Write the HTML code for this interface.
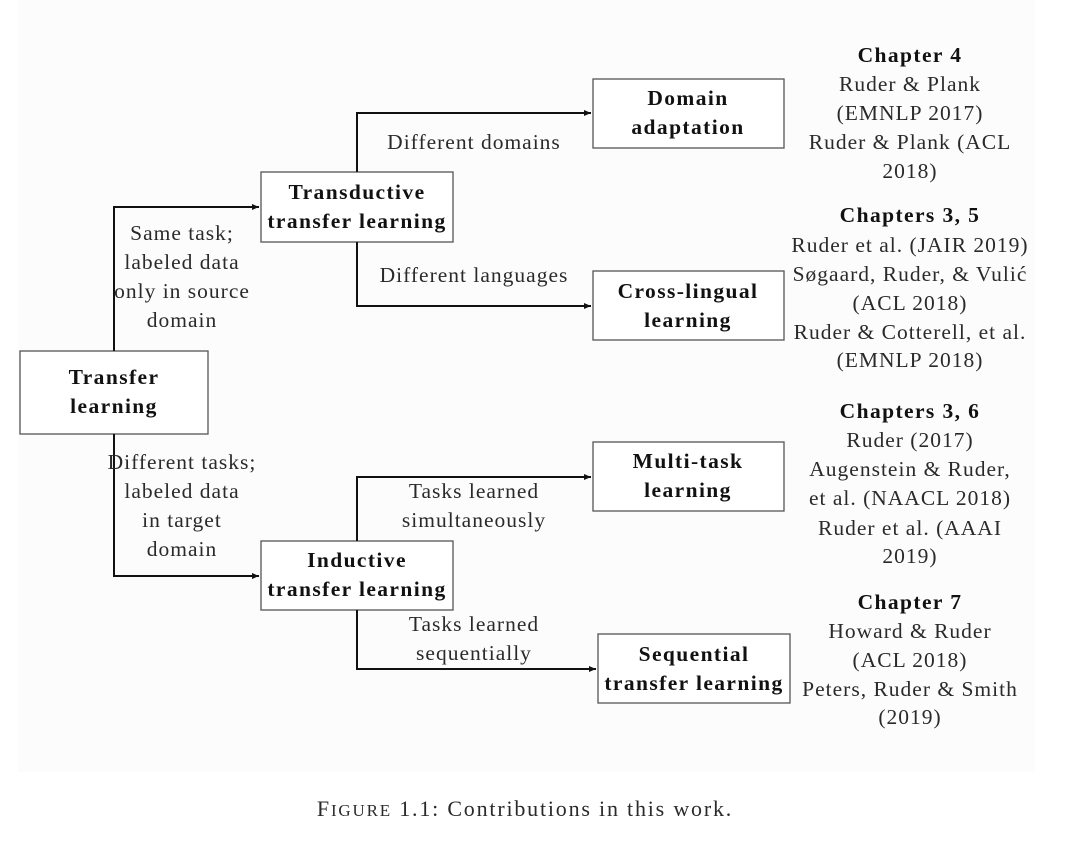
<!DOCTYPE html>
<html><head><meta charset="utf-8"><style>
html,body{margin:0;padding:0;background:#fff;}
body{width:1080px;height:842px;position:relative;overflow:hidden;font-family:"Liberation Serif",serif;color:#222;}
.bg{position:absolute;left:18px;top:0;width:1017px;height:772px;background:#fcfcfc;}
svg{position:absolute;left:0;top:0;}
text{font-family:"Liberation Serif",serif;font-size:21.5px;letter-spacing:1px;fill:#2a2a2a;text-anchor:middle;}
.b{font-weight:bold;fill:#111;letter-spacing:1.4px;}
</style></head><body>
<div class="bg"></div>
<svg width="1080" height="842" viewBox="0 0 1080 842">
<defs><marker id="a" markerWidth="8" markerHeight="8" refX="7" refY="4" orient="auto" markerUnits="userSpaceOnUse"><path d="M0,1 L7,4 L0,7 z" fill="#111"/></marker></defs>
<g fill="#fff" stroke="#555" stroke-width="1.3">
<rect x="20" y="351" width="188" height="83"/>
<rect x="261" y="172" width="192" height="70"/>
<rect x="261" y="541" width="192" height="69"/>
<rect x="593" y="79" width="191" height="69"/>
<rect x="593" y="271" width="191" height="69"/>
<rect x="593" y="442" width="191" height="69"/>
<rect x="598" y="634" width="192" height="69"/>
</g>
<g fill="none" stroke="#111" stroke-width="2">
<path d="M114,351 V207 H259" marker-end="url(#a)"/>
<path d="M114,434 V576 H259" marker-end="url(#a)"/>
<path d="M357,172 V113 H591" marker-end="url(#a)"/>
<path d="M357,242 V306 H591" marker-end="url(#a)"/>
<path d="M357,541 V477 H591" marker-end="url(#a)"/>
<path d="M357,610 V669 H596" marker-end="url(#a)"/>
</g>
<text class="b" x="114" y="384">Transfer</text><text class="b" x="114" y="413">learning</text>
<text class="b" x="357" y="199">Transductive</text><text class="b" x="357" y="228">transfer learning</text>
<text class="b" x="357" y="567">Inductive</text><text class="b" x="357" y="596">transfer learning</text>
<text class="b" x="688" y="105">Domain</text><text class="b" x="688" y="134">adaptation</text>
<text class="b" x="688" y="298">Cross-lingual</text><text class="b" x="688" y="327">learning</text>
<text class="b" x="688" y="468">Multi-task</text><text class="b" x="688" y="497">learning</text>
<text class="b" x="694" y="661">Sequential</text><text class="b" x="694" y="690">transfer learning</text>
<text x="182" y="240">Same task;</text><text x="182" y="269">labeled data</text><text x="182" y="298">only in source</text><text x="182" y="327">domain</text>
<text x="182" y="469">Different tasks;</text><text x="182" y="498">labeled data</text><text x="182" y="527">in target</text><text x="182" y="556">domain</text>
<text x="474" y="149">Different domains</text>
<text x="474" y="282">Different languages</text>
<text x="474" y="498">Tasks learned</text><text x="474" y="527">simultaneously</text>
<text x="474" y="631">Tasks learned</text><text x="474" y="660">sequentially</text>
<text class="b" x="910" y="62">Chapter 4</text>
<text x="910" y="91">Ruder &amp; Plank</text><text x="910" y="120">(EMNLP 2017)</text><text x="910" y="149">Ruder &amp; Plank (ACL</text><text x="910" y="178">2018)</text>
<text class="b" x="910" y="222">Chapters 3, 5</text>
<text x="910" y="252">Ruder et al. (JAIR 2019)</text><text x="910" y="281">Søgaard, Ruder, &amp; Vulić</text><text x="910" y="310">(ACL 2018)</text><text x="910" y="339">Ruder &amp; Cotterell, et al.</text><text x="910" y="367">(EMNLP 2018)</text>
<text class="b" x="910" y="418">Chapters 3, 6</text>
<text x="910" y="447">Ruder (2017)</text><text x="910" y="476">Augenstein &amp; Ruder,</text><text x="910" y="505">et al. (NAACL 2018)</text><text x="910" y="535">Ruder et al. (AAAI</text><text x="910" y="563">2019)</text>
<text class="b" x="910" y="609">Chapter 7</text>
<text x="910" y="638">Howard &amp; Ruder</text><text x="910" y="667">(ACL 2018)</text><text x="910" y="696">Peters, Ruder &amp; Smith</text><text x="910" y="724">(2019)</text>
<text x="525" y="816" style="font-size:22px;letter-spacing:1.8px">F<tspan font-size="17">IGURE</tspan> 1.1: Contributions in this work.</text>
</svg>
</body></html>
